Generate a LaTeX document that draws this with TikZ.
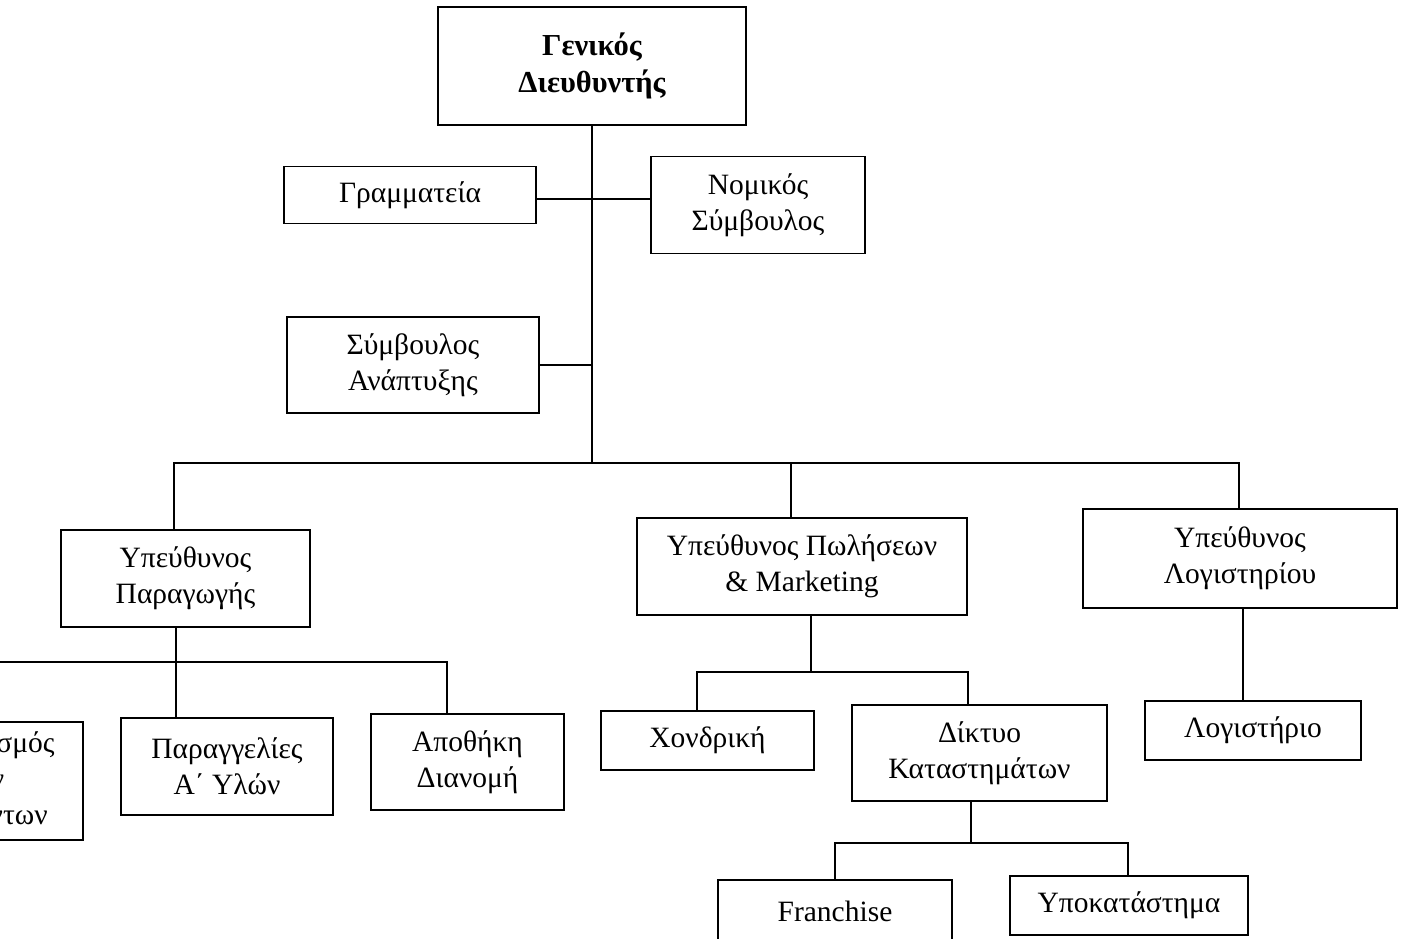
\documentclass[tikz,border=0pt]{standalone}
\usepackage{fontspec}
\setmainfont{Liberation Serif}
\begin{document}
\begin{tikzpicture}[x=1pt,y=-1pt,
  box/.style={draw,line width=1.6pt,align=center,inner sep=0pt,font=\fontsize{29.5}{36}\selectfont},
  conn/.style={line width=1.6pt}]
\useasboundingbox (0,0) rectangle (1406,939);
\fill[white] (0,0) rectangle (1406,939);
\clip (0,0) rectangle (1406,939);
% boxes
\node[box,minimum width=308,minimum height=118,font=\fontsize{30.5}{37}\selectfont\bfseries] (gd) at (592,66) {\raisebox{4pt}{\parbox{300pt}{\centering Γενικός\\Διευθυντής}}};
\node[box,minimum width=252,minimum height=57] (gram) at (410,195) {Γραμματεία};
\node[box,minimum width=214,minimum height=97] (nom) at (758,205) {Νομικός\\Σύμβουλος};
\node[box,minimum width=252,minimum height=96] (anap) at (413,365) {Σύμβουλος\\Ανάπτυξης};
\node[box,minimum width=249,minimum height=97] (parag) at (185.5,578.5) {Υπεύθυνος\\Παραγωγής};
\node[box,minimum width=330,minimum height=97] (pol) at (802,566.5) {Υπεύθυνος Πωλήσεων\\\& Marketing};
\node[box,minimum width=314,minimum height=99] (log) at (1240,558.5) {Υπεύθυνος\\Λογιστηρίου};
\node[box,minimum width=202,minimum height=118] (left) at (-18,781) {Εφοδιασμός\\των\\Προϊόντων};
\node[box,minimum width=212,minimum height=97] (parang) at (227,766.5) {Παραγγελίες\\Α΄ Υλών};
\node[box,minimum width=193,minimum height=96] (apoth) at (467.5,762) {Αποθήκη\\Διανομή};
\node[box,minimum width=213,minimum height=59] (chond) at (707.5,740.5) {Χονδρική};
\node[box,minimum width=255,minimum height=96] (dikt) at (979.5,753) {Δίκτυο\\Καταστημάτων};
\node[box,minimum width=216,minimum height=59] (logist) at (1253,730.5) {Λογιστήριο};
\node[box,minimum width=234,minimum height=62] (fran) at (835,911) {Franchise};
\node[box,minimum width=238,minimum height=59] (ypok) at (1129,905.5) {Υποκατάστημα};
% junction coordinates
\coordinate (gn) at (592,199);
\coordinate (pp) at (174,463);
\coordinate (pm) at (791,463);
\coordinate (lb) at (1239,463);
\coordinate (j2) at (176,662);
\coordinate (a2) at (447,662);
\coordinate (j3) at (811,672);
\coordinate (c3) at (697,672);
\coordinate (d3) at (968,672);
\coordinate (j4) at (971,843);
\coordinate (f4) at (835,843);
\coordinate (y4) at (1128,843);
\coordinate (j5) at (1243,640);
% connectors
\draw[conn] (gd.south) -- (gd.south |- pp);
\draw[conn] (gram.east |- gn) -- (nom.west |- gn);
\draw[conn] (anap.east) -- (anap.east -| gd.south);
\draw[conn] (pp |- parag.north) -- (pp) -- (lb) -- (lb |- log.north);
\draw[conn] (pm) -- (pm |- pol.north);
\draw[conn] (parag.south -| j2) -- (j2) -- (j2 |- parang.north);
\draw[conn] (left.north |- j2) -- (a2) -- (a2 |- apoth.north);
\draw[conn] (left.north |- j2) -- (left.north);
\draw[conn] (pol.south -| j3) -- (j3);
\draw[conn] (c3 |- chond.north) -- (c3) -- (d3) -- (d3 |- dikt.north);
\draw[conn] (dikt.south -| j4) -- (j4);
\draw[conn] (f4 |- fran.north) -- (f4) -- (y4) -- (y4 |- ypok.north);
\draw[conn] (log.south -| j5) -- (logist.north -| j5);
\end{tikzpicture}
\end{document}
